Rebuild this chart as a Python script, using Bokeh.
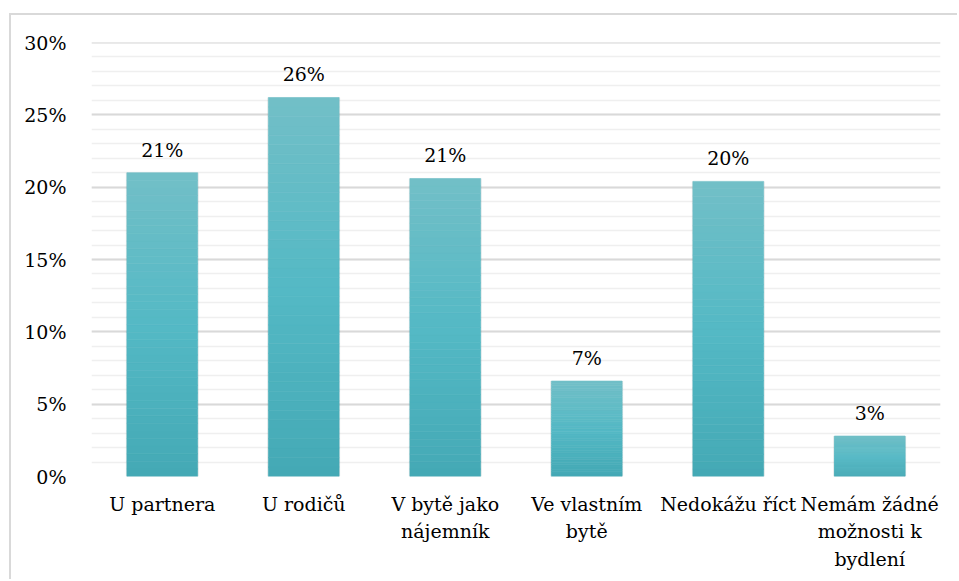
from bokeh.plotting import figure
from bokeh.models import (ColumnDataSource, LabelSet, NumeralTickFormatter,
                          SingleIntervalTicker, Range1d)
from bokeh.core.properties import value
from bokeh.embed import file_html
from bokeh.resources import INLINE

categories = ["U partnera", "U rodičů", "V bytě jako\nnájemník", "Ve vlastním\nbytě",
              "Nedokážu říct", "Nemám žádné\nmožnosti k\nbydlení"]
values = [0.210, 0.262, 0.206, 0.066, 0.204, 0.028]
value_labels = ["21%", "26%", "21%", "7%", "20%", "3%"]

FONT = "DejaVu Serif"
FSIZE = "19px"

p = figure(x_range=categories, y_range=Range1d(0, 0.30001), width=948, height=566,
           output_backend="svg", toolbar_location=None,
           min_border_left=80, min_border_right=19, min_border_top=27, min_border_bottom=105)
p.outline_line_color = None
p.styles = {"margin-left": "9px", "margin-top": "13px",
            "border-top": "2px solid #d9d9d9", "border-left": "2px solid #d9d9d9"}

top_c = (114, 191, 199)
mid_c = (84, 185, 197)
bot_c = (68, 169, 181)

def lerp(a, b, t):
    return tuple(int(round(a[k] + (b[k] - a[k]) * t)) for k in range(3))

p.vbar(x=categories, top=values, width=0.515, fill_color="black", fill_alpha=0.07,
       line_color=None)

n = 40
for i in range(n):
    f = (i + 0.5) / n
    if f < 0.5:
        c = lerp(bot_c, mid_c, f / 0.5)
    else:
        c = lerp(mid_c, top_c, (f - 0.5) / 0.5)
    col = "#%02x%02x%02x" % c
    bottoms = [v * i / n for v in values]
    tops = [v * (i + 1) / n for v in values]
    p.vbar(x=categories, bottom=bottoms, top=tops, width=0.5, fill_color=col,
           line_color=col, line_width=0.6)

src = ColumnDataSource(dict(x=categories, y=values, t=value_labels))
p.add_layout(LabelSet(x="x", y="y", text="t", source=src, y_offset=16,
                      text_align="center", text_baseline="alphabetic",
                      text_font=value(FONT), text_font_size=FSIZE,
                      text_color="#000000"))

p.yaxis.ticker = SingleIntervalTicker(interval=0.05, num_minor_ticks=5)
p.yaxis.formatter = NumeralTickFormatter(format="0%")
for ax in (p.xaxis, p.yaxis):
    ax.axis_line_color = None
    ax.major_tick_line_color = None
    ax.minor_tick_line_color = None
    ax.major_label_text_font = FONT
    ax.major_label_text_font_size = FSIZE
    ax.major_label_text_color = "#000000"
p.yaxis.major_label_standoff = 19
p.xaxis.major_label_standoff = 10
p.xaxis.major_label_text_line_height = 1.25

p.xgrid.grid_line_color = None
p.ygrid.grid_line_color = "#d9d9d9"
p.ygrid.grid_line_width = 2
p.ygrid.minor_grid_line_color = "#efefef"
p.ygrid.minor_grid_line_width = 1.5

open("out.html", "w").write(file_html(p, INLINE))
